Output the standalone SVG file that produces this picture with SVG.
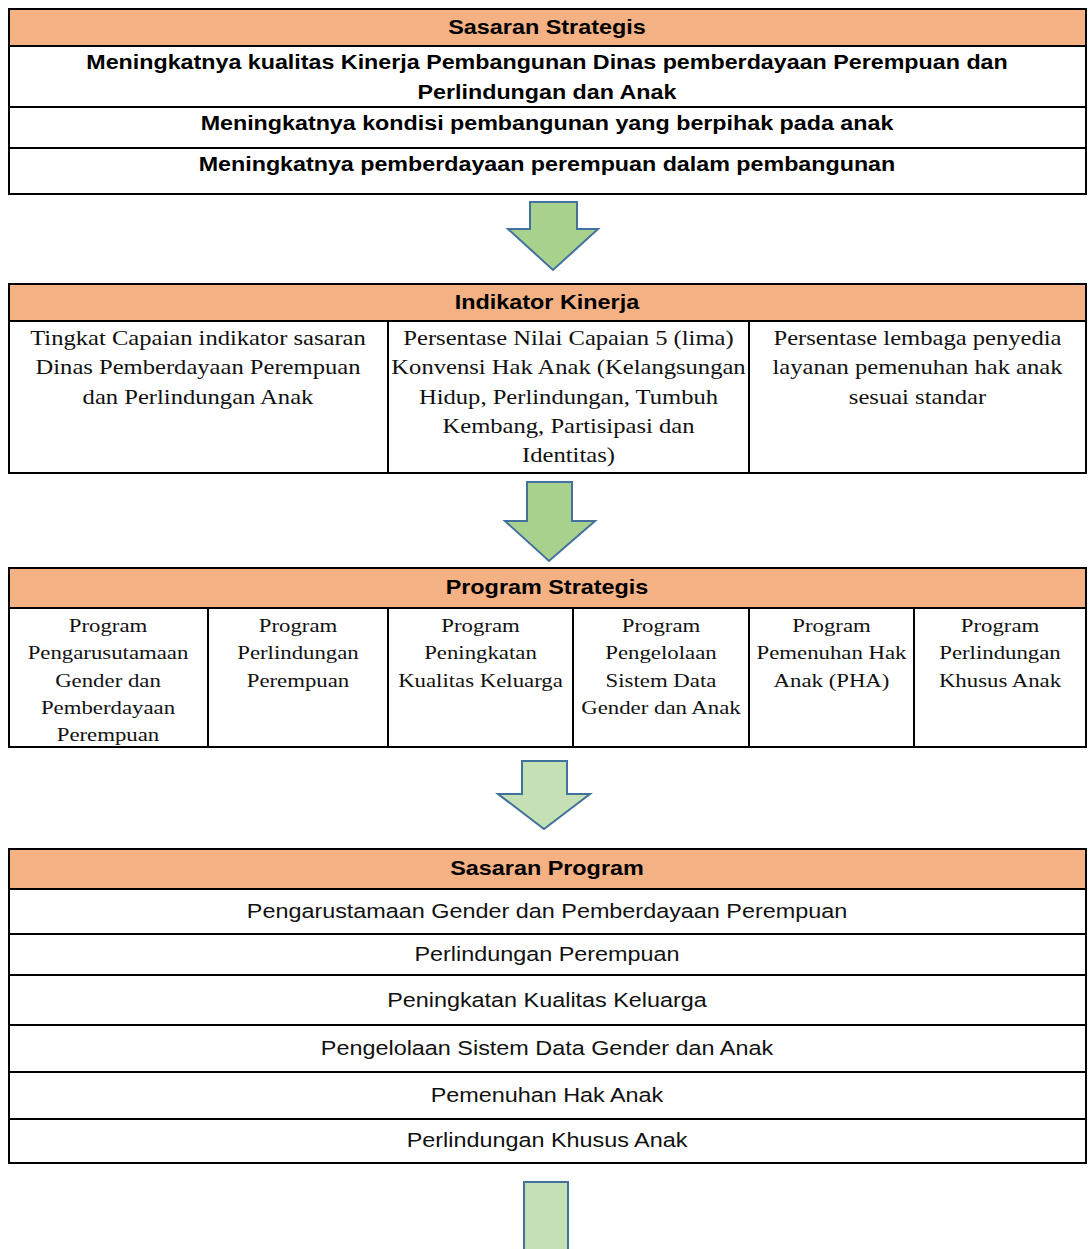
<svg xmlns="http://www.w3.org/2000/svg" width="1088" height="1249" viewBox="0 0 1088 1249">
<style>
.hdr{fill:#F4B183;stroke:none}
.cell{fill:#FFFFFF;stroke:none}
.ln{stroke:#000;stroke-width:2;fill:none}
.box{fill:none;stroke:#000;stroke-width:2}
.hb{font-family:"Liberation Sans",Arial,sans-serif;font-weight:bold;font-size:19.5px;fill:#000;text-anchor:middle}
.tb{font-family:"Liberation Sans",Arial,sans-serif;font-weight:bold;font-size:19.4px;fill:#000;text-anchor:middle}
.sr{font-family:"Liberation Serif","Times New Roman",serif;font-size:20.5px;fill:#111;text-anchor:middle}
.sr2{font-family:"Liberation Serif","Times New Roman",serif;font-size:19px;fill:#111;text-anchor:middle}
.sn{font-family:"Liberation Sans",Arial,sans-serif;font-size:19.5px;fill:#111;text-anchor:middle}
.ar1{fill:#A9D18E;stroke:#41719C;stroke-width:2;stroke-linejoin:miter}
.ar2{fill:#C5E0B4;stroke:#41719C;stroke-width:2;stroke-linejoin:miter}
</style>

<rect width="1088" height="1249" fill="#FFFFFF"/>

<!-- Table 1: Sasaran Strategis -->
<g id="sasaran-strategis">
  <rect class="hdr" x="9" y="9" width="1077" height="37"/>
  <rect class="cell" x="9" y="46" width="1077" height="148"/>
  <rect class="box" x="9" y="9" width="1077" height="185"/>
  <line class="ln" x1="9" y1="46" x2="1086" y2="46"/>
  <line class="ln" x1="9" y1="107" x2="1086" y2="107"/>
  <line class="ln" x1="9" y1="148" x2="1086" y2="148"/>
  <g transform="scale(1.2 1)">
    <text class="hb" x="455.83" y="34">Sasaran Strategis</text>
    <text class="tb" x="455.83" y="69">Meningkatnya kualitas Kinerja Pembangunan Dinas pemberdayaan Perempuan dan</text>
    <text class="tb" x="455.83" y="99">Perlindungan dan Anak</text>
    <text class="tb" x="455.83" y="130">Meningkatnya kondisi pembangunan yang berpihak pada anak</text>
    <text class="tb" x="455.83" y="171">Meningkatnya pemberdayaan perempuan dalam pembangunan</text>
  </g>
</g>

<!-- Table 2: Indikator Kinerja -->
<g id="indikator-kinerja">
  <rect class="hdr" x="9" y="284" width="1077" height="37"/>
  <rect class="cell" x="9" y="321" width="1077" height="152"/>
  <rect class="box" x="9" y="284" width="1077" height="189"/>
  <line class="ln" x1="9" y1="321" x2="1086" y2="321"/>
  <line class="ln" x1="388" y1="321" x2="388" y2="473"/>
  <line class="ln" x1="749" y1="321" x2="749" y2="473"/>
  <g transform="scale(1.2 1)">
    <text class="hb" x="455.83" y="309">Indikator Kinerja</text>
    <text class="sr" x="165" y="345">Tingkat Capaian indikator sasaran</text>
    <text class="sr" x="165" y="374.3">Dinas Pemberdayaan Perempuan</text>
    <text class="sr" x="165" y="403.6">dan Perlindungan Anak</text>
    <text class="sr" x="473.75" y="345">Persentase Nilai Capaian 5 (lima)</text>
    <text class="sr" x="473.75" y="374.3">Konvensi Hak Anak (Kelangsungan</text>
    <text class="sr" x="473.75" y="403.6">Hidup, Perlindungan, Tumbuh</text>
    <text class="sr" x="473.75" y="432.9">Kembang, Partisipasi dan</text>
    <text class="sr" x="473.75" y="462.2">Identitas)</text>
    <text class="sr" x="764.58" y="345">Persentase lembaga penyedia</text>
    <text class="sr" x="764.58" y="374.3">layanan pemenuhan hak anak</text>
    <text class="sr" x="764.58" y="403.6">sesuai standar</text>
  </g>
</g>

<!-- Table 3: Program Strategis -->
<g id="program-strategis">
  <rect class="hdr" x="9" y="568" width="1077" height="40"/>
  <rect class="cell" x="9" y="608" width="1077" height="139"/>
  <rect class="box" x="9" y="568" width="1077" height="179"/>
  <line class="ln" x1="9" y1="608" x2="1086" y2="608"/>
  <line class="ln" x1="208" y1="608" x2="208" y2="747"/>
  <line class="ln" x1="388" y1="608" x2="388" y2="747"/>
  <line class="ln" x1="573" y1="608" x2="573" y2="747"/>
  <line class="ln" x1="749" y1="608" x2="749" y2="747"/>
  <line class="ln" x1="914" y1="608" x2="914" y2="747"/>
  <g transform="scale(1.2 1)">
    <text class="hb" x="455.83" y="594">Program Strategis</text>
    <text class="sr2" x="90" y="632">Program</text>
    <text class="sr2" x="90" y="659.3">Pengarusutamaan</text>
    <text class="sr2" x="90" y="686.6">Gender dan</text>
    <text class="sr2" x="90" y="713.9">Pemberdayaan</text>
    <text class="sr2" x="90" y="741.2">Perempuan</text>
    <text class="sr2" x="248.33" y="632">Program</text>
    <text class="sr2" x="248.33" y="659.3">Perlindungan</text>
    <text class="sr2" x="248.33" y="686.6">Perempuan</text>
    <text class="sr2" x="400.42" y="632">Program</text>
    <text class="sr2" x="400.42" y="659.3">Peningkatan</text>
    <text class="sr2" x="400.42" y="686.6">Kualitas Keluarga</text>
    <text class="sr2" x="550.83" y="632">Program</text>
    <text class="sr2" x="550.83" y="659.3">Pengelolaan</text>
    <text class="sr2" x="550.83" y="686.6">Sistem Data</text>
    <text class="sr2" x="550.83" y="713.9">Gender dan Anak</text>
    <text class="sr2" x="692.92" y="632">Program</text>
    <text class="sr2" x="692.92" y="659.3">Pemenuhan Hak</text>
    <text class="sr2" x="692.92" y="686.6">Anak (PHA)</text>
    <text class="sr2" x="833.33" y="632">Program</text>
    <text class="sr2" x="833.33" y="659.3">Perlindungan</text>
    <text class="sr2" x="833.33" y="686.6">Khusus Anak</text>
  </g>
</g>

<!-- Table 4: Sasaran Program -->
<g id="sasaran-program">
  <rect class="hdr" x="9" y="849" width="1077" height="40"/>
  <rect class="cell" x="9" y="889" width="1077" height="274"/>
  <rect class="box" x="9" y="849" width="1077" height="314"/>
  <line class="ln" x1="9" y1="889" x2="1086" y2="889"/>
  <line class="ln" x1="9" y1="934" x2="1086" y2="934"/>
  <line class="ln" x1="9" y1="975" x2="1086" y2="975"/>
  <line class="ln" x1="9" y1="1025" x2="1086" y2="1025"/>
  <line class="ln" x1="9" y1="1072" x2="1086" y2="1072"/>
  <line class="ln" x1="9" y1="1119" x2="1086" y2="1119"/>
  <g transform="scale(1.2 1)">
    <text class="hb" x="455.83" y="875">Sasaran Program</text>
    <text class="sn" x="455.83" y="918">Pengarustamaan Gender dan Pemberdayaan Perempuan</text>
    <text class="sn" x="455.83" y="961">Perlindungan Perempuan</text>
    <text class="sn" x="455.83" y="1007">Peningkatan Kualitas Keluarga</text>
    <text class="sn" x="455.83" y="1055">Pengelolaan Sistem Data Gender dan Anak</text>
    <text class="sn" x="455.83" y="1102">Pemenuhan Hak Anak</text>
    <text class="sn" x="455.83" y="1147">Perlindungan Khusus Anak</text>
  </g>
</g>

<!-- Connectors: block arrows -->
<g id="connectors">
  <polygon class="ar1" points="530,202 577,202 577,229 598,229 553,270 508,229 530,229"/>
  <polygon class="ar1" points="527,482 572,482 572,521 595,521 549,561 505,521 527,521"/>
  <polygon class="ar2" points="522,761 567,761 567,794 590,794 544,829 498,794 522,794"/>
  <polygon class="ar2" points="524,1182 568,1182 568,1252 524,1252"/>
</g>
</svg>
